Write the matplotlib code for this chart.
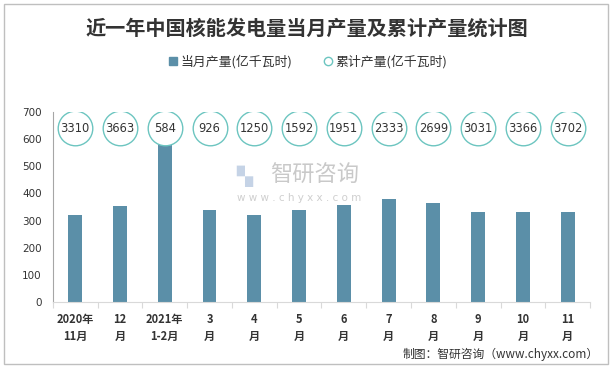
import matplotlib
matplotlib.use("Agg")
import matplotlib.pyplot as plt
from matplotlib.lines import Line2D
from matplotlib.patches import Rectangle

plt.rcParams['font.family'] = ['Noto Sans CJK SC', 'DejaVu Sans']

months = ['2020年\n11月', '12\n月', '2021年\n1-2月', '3\n月', '4\n月', '5\n月',
          '6\n月', '7\n月', '8\n月', '9\n月', '10\n月', '11\n月']
monthly = [321, 353, 580, 340, 322, 340, 356, 381, 364, 331, 333, 333]
cumulative = [3310, 3663, 584, 926, 1250, 1592, 1951, 2333, 2699, 3031, 3366, 3702]
yticks = [0, 100, 200, 300, 400, 500, 600, 700]

bar_color = '#5b8fa8'
ring_color = '#6cc5c0'
text_color = '#333333'

fig = plt.figure(figsize=(6.14, 3.68), dpi=100)
# outer frame
fig.patches.append(Rectangle((0.007, 0.01), 0.983, 0.98, transform=fig.transFigure,
                             fill=False, edgecolor='#bfbfbf', linewidth=1))

ax = fig.add_axes([0.086, 0.179, 0.875, 0.517])
x = list(range(len(months)))
ax.bar(x, monthly, width=0.31, color=bar_color, zorder=2)

# cumulative values drawn as rings with labels, at a fixed height
ring_y = [640] * len(x)
ax.scatter(x, ring_y, s=620, facecolor='white', edgecolor=ring_color, linewidth=1, zorder=3)
for xi, v in zip(x, cumulative):
    ax.text(xi, 640, str(v), ha='center', va='center', fontsize=8.3, color=text_color,
            family='DejaVu Sans', zorder=4)

ax.set_xlim(-0.5, len(x) - 0.5)
ax.set_ylim(0, 700)
ax.set_yticks(yticks)
ax.tick_params(axis='y', length=0, labelsize=7.5, colors=text_color, pad=8)
for lab in ax.get_yticklabels():
    lab.set_family('DejaVu Sans')

ax.set_xticks([i - 0.5 for i in range(len(x) + 1)], minor=False)
ax.set_xticklabels([])
ax.set_xticks(x, minor=True)
ax.set_xticklabels(months, minor=True, fontsize=8, fontweight='bold', color=text_color,
                   linespacing=1.4)
ax.tick_params(axis='x', which='major', length=4, color='#d9d9d9', direction='out')
ax.tick_params(axis='x', which='minor', length=0, pad=8)

for s in ['top', 'right']:
    ax.spines[s].set_visible(False)
ax.spines['left'].set_color('#a6a6a6')
ax.spines['bottom'].set_color('#d9d9d9')

fig.text(0.5, 0.925, '近一年中国核能发电量当月产量及累计产量统计图', ha='center', va='center',
         fontsize=14.5, fontweight='bold', color=text_color)

handles = [Line2D([], [], marker='s', linestyle='none', markersize=6, color=bar_color),
           Line2D([], [], marker='o', linestyle='none', markersize=6,
                  markerfacecolor='white', markeredgecolor=ring_color)]
fig.legend(handles, ['当月产量(亿千瓦时)', '累计产量(亿千瓦时)'], loc='center',
           bbox_to_anchor=(0.5, 0.832), ncol=2, frameon=False, fontsize=9.3,
           handletextpad=0.1, columnspacing=2.2, handlelength=1.0,
           labelcolor=text_color)

# watermark
fig.text(0.385, 0.522, '▚', fontsize=15, color='#c5d3e6', ha='left', va='center',
         family='DejaVu Sans')
fig.text(0.44, 0.522, '智研咨询', fontsize=16, color='#c9c9c9', ha='left', va='center')
fig.text(0.386, 0.462, 'w w w . c h y x x . c o m', fontsize=7.5, color='#cfcfcf',
         ha='left', va='center', family='DejaVu Sans')

fig.text(0.975, 0.038, '制图：智研咨询（www.chyxx.com）', ha='right', va='center',
         fontsize=8.5, color=text_color)

fig.savefig('out.png', dpi=100)
